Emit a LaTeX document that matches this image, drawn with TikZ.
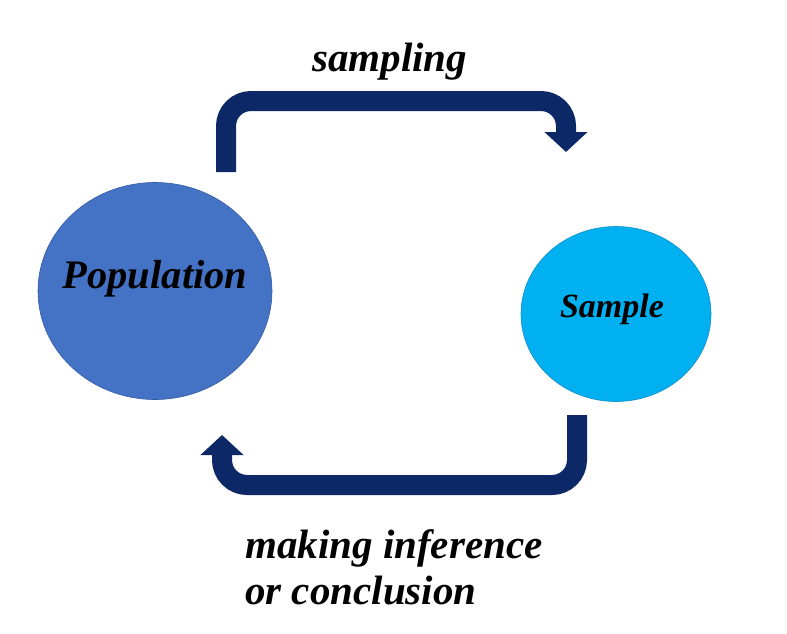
\documentclass[tikz,border=0pt]{standalone}
\usepackage{fontspec}
\setmainfont{Liberation Serif}
\usepackage{tikz}
\usetikzlibrary{arrows.meta}
\usetikzlibrary{shapes.geometric}
\definecolor{popblue}{RGB}{68,114,196}
\definecolor{popedge}{RGB}{52,92,165}
\definecolor{smplblue}{RGB}{0,176,240}
\definecolor{smpledge}{RGB}{20,140,200}
\definecolor{navy}{RGB}{13,40,102}
\tikzset{
  blob/.style={ellipse,draw,line width=0.6pt,inner sep=0pt},
  flow/.style={line width=20pt,color=navy,rounded corners=25pt,-{Triangle[width=42pt,length=20pt]}},
  lbl/.style={font=\bfseries\itshape,inner sep=0pt}
}

\begin{document}
\begin{tikzpicture}[line join=round,x=1pt,y=-1pt]
            \useasboundingbox (0,0) rectangle (787,634);
            \node[blob,fill=popblue,draw=popedge,minimum width=234pt,minimum height=217pt] (pop) at (155,291) {};
            \node[blob,fill=smplblue,draw=smpledge,minimum width=190pt,minimum height=175pt] (smpl) at (616,314) {};
            \node[lbl,anchor=base,font=\fontsize{40.5}{46}\bfseries\itshape\selectfont] (poptext) at (155,288) {Population};
            \node[lbl,anchor=base,font=\fontsize{34}{40}\bfseries\itshape\selectfont] (smpltext) at (612,317) {Sample};
            % arrow ends
            \coordinate (out1) at (226,172);
            \coordinate (in1) at (566,152);
            \coordinate (out2) at (577,415);
            \coordinate (in2) at (222,435);
            \draw[flow] (out1) -- (226,101) -- (566,101) -- (in1);
            \draw[flow] (out2) -- (577,485) -- (222,485) -- (in2);
            \node[lbl,anchor=base west,font=\fontsize{41}{46}\bfseries\itshape\selectfont] (samp) at (312,72) {sampling};
            \node[lbl,anchor=north west,align=left,font=\fontsize{41}{46}\bfseries\itshape\selectfont] (infer) at (245,529) {making inference\\or conclusion};
\end{tikzpicture}
\end{document}
